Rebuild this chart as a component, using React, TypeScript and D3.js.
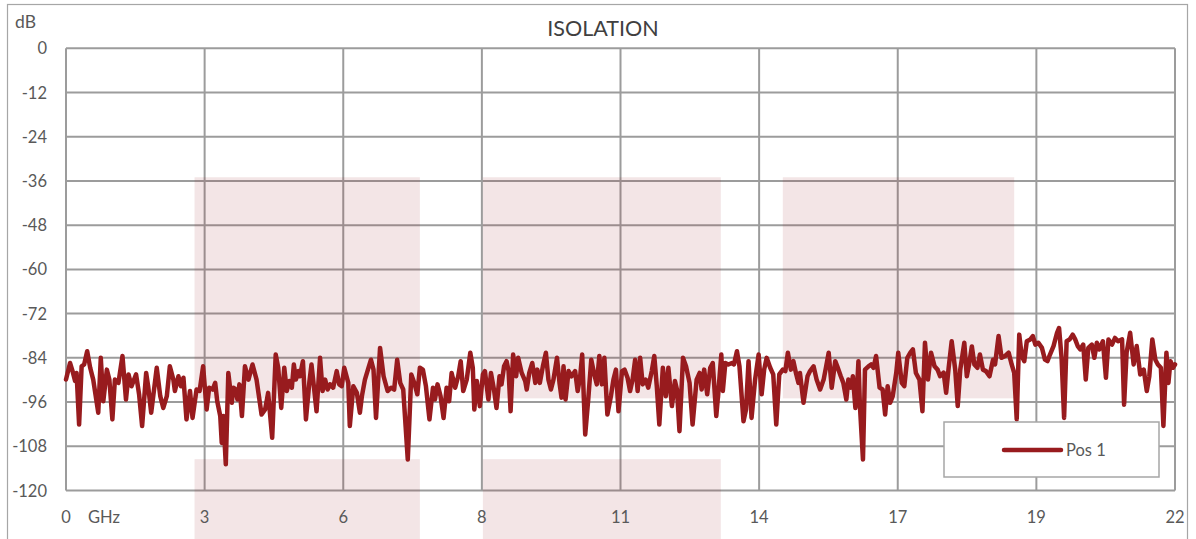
import React, { useRef, useEffect } from "react";
import * as d3 from "d3";

// measured isolation, Pos 1 (GHz, dB)
const freqGHz = [
  0.0, 0.08, 0.13, 0.18, 0.21, 0.26, 0.31, 0.36, 0.42, 0.48, 0.54, 0.64, 0.69, 0.74, 0.81, 0.86, 0.92, 0.97,
  1.04, 1.12, 1.19, 1.24, 1.3, 1.39, 1.45, 1.51, 1.59, 1.63, 1.69, 1.8, 1.87, 1.93, 2.0, 2.06, 2.13, 2.16,
  2.23, 2.28, 2.33, 2.39, 2.46, 2.51, 2.59, 2.65, 2.72, 2.79, 2.84, 2.91, 2.96, 3.0, 3.06, 3.09, 3.12, 3.17,
  3.22, 3.29, 3.32, 3.37, 3.4, 3.44, 3.49, 3.55, 3.62, 3.7, 3.78, 3.88, 3.95, 4.01, 4.09, 4.16, 4.21, 4.27,
  4.33, 4.38, 4.43, 4.48, 4.52, 4.56, 4.61, 4.64, 4.7, 4.76, 4.83, 4.87, 4.92, 4.97, 5.04, 5.09, 5.14, 5.19,
  5.24, 5.3, 5.37, 5.42, 5.47, 5.52, 5.6, 5.63, 5.7, 5.77, 5.83, 5.87, 5.93, 6.0, 6.05, 6.1, 6.15, 6.23,
  6.3, 6.38, 6.45, 6.51, 6.57, 6.63, 6.69, 6.78, 6.85, 6.91, 6.97, 7.02, 7.08, 7.14, 7.21, 7.28, 7.32, 7.37,
  7.43, 7.49, 7.55, 7.6, 7.65, 7.72, 7.78, 7.83, 7.88, 7.95, 8.02, 8.07, 8.1, 8.15, 8.21, 8.27, 8.31, 8.38,
  8.43, 8.49, 8.54, 8.6, 8.64, 8.69, 8.74, 8.78, 8.82, 8.87, 8.93, 8.97, 9.04, 9.11, 9.14, 9.19, 9.25, 9.31,
  9.35, 9.4, 9.46, 9.52, 9.57, 9.62, 9.67, 9.74, 9.79, 9.83, 9.87, 9.91, 9.97, 10.03, 10.1, 10.15, 10.2, 10.24,
  10.3, 10.36, 10.42, 10.48, 10.53, 10.58, 10.63, 10.68, 10.74, 10.81, 10.86, 10.91, 10.96, 11.03, 11.08, 11.14, 11.19, 11.24,
  11.29, 11.34, 11.39, 11.44, 11.5, 11.55, 11.62, 11.67, 11.72, 11.77, 11.84, 11.9, 11.95, 12.02, 12.08, 12.12, 12.17, 12.24,
  12.3, 12.37, 12.43, 12.51, 12.57, 12.61, 12.66, 12.72, 12.78, 12.83, 12.9, 12.94, 13.0, 13.03, 13.08, 13.14, 13.21, 13.25,
  13.31, 13.36, 13.44, 13.49, 13.54, 13.6, 13.67, 13.74, 13.8, 13.85, 13.9, 13.97, 14.03, 14.09, 14.15, 14.22, 14.27, 14.32,
  14.38, 14.43, 14.48, 14.53, 14.56, 14.63, 14.71, 14.76, 14.83, 14.89, 14.96, 15.03, 15.08, 15.13, 15.19, 15.26, 15.3, 15.37,
  15.42, 15.48, 15.52, 15.57, 15.61, 15.66, 15.69, 15.72, 15.75, 15.81, 15.85, 15.92, 15.97, 16.02, 16.07, 16.14, 16.2, 16.25,
  16.3, 16.35, 16.4, 16.47, 16.51, 16.58, 16.63, 16.69, 16.75, 16.8, 16.86, 16.93, 16.99, 17.04, 17.1, 17.16, 17.23, 17.29,
  17.34, 17.41, 17.46, 17.51, 17.57, 17.64, 17.69, 17.74, 17.82, 17.87, 17.92, 17.97, 18.02, 18.08, 18.13, 18.19, 18.25, 18.32,
  18.39, 18.43, 18.5, 18.56, 18.63, 18.7, 18.76, 18.81, 18.86, 18.91, 18.96, 19.01, 19.06, 19.13, 19.18, 19.23, 19.29, 19.36,
  19.42, 19.47, 19.52, 19.59, 19.66, 19.7, 19.75, 19.8, 19.85, 19.91, 19.97, 20.02, 20.07, 20.12, 20.18, 20.23, 20.28, 20.35,
  20.4, 20.45, 20.5, 20.57, 20.63, 20.68, 20.75, 20.81, 20.87, 20.95, 20.99, 21.04, 21.11, 21.18, 21.24, 21.31, 21.38, 21.44,
  21.49, 21.55, 21.61, 21.66, 21.72, 21.77, 21.83, 21.87, 21.91, 21.96, 22.0,
];

const pos1Db = [
  -89.9, -85.4, -87.6, -90.3, -88.1, -102.1, -86.3, -85.8, -82.2, -86.7, -89.9, -98.9, -84.0, -95.8, -87.2, -89.9, -100.7, -89.9,
  -90.8, -83.5, -95.3, -88.5, -91.7, -88.5, -93.9, -102.5, -88.1, -91.7, -98.9, -86.7, -94.4, -97.6, -94.4, -86.3, -89.9, -93.0,
  -89.0, -91.7, -89.4, -100.7, -93.0, -100.3, -92.6, -93.0, -86.3, -98.0, -92.1, -92.6, -90.8, -95.8, -99.8, -107.1, -99.8, -112.9,
  -88.1, -96.2, -92.1, -92.6, -95.3, -91.2, -99.8, -86.3, -89.9, -85.8, -89.9, -99.4, -98.0, -93.5, -105.7, -83.1, -86.7, -97.6,
  -86.7, -93.0, -90.3, -92.1, -85.8, -89.9, -87.6, -89.0, -84.9, -100.7, -90.3, -85.8, -92.1, -98.5, -84.0, -93.0, -89.9, -92.6,
  -91.2, -92.1, -87.6, -91.2, -91.7, -86.7, -90.8, -102.5, -91.7, -93.5, -98.9, -94.4, -89.9, -86.7, -84.5, -87.2, -100.3, -81.3,
  -89.0, -93.0, -92.1, -92.6, -84.5, -90.8, -92.6, -111.6, -88.5, -90.8, -93.9, -86.7, -87.2, -91.7, -100.7, -92.1, -95.3, -91.2,
  -94.4, -100.3, -92.1, -95.8, -88.1, -92.1, -89.0, -84.9, -93.0, -89.9, -82.6, -86.7, -98.0, -90.3, -97.1, -88.5, -87.6, -95.3,
  -88.1, -92.6, -97.6, -89.0, -91.2, -86.3, -84.9, -87.6, -98.5, -83.1, -89.0, -84.0, -88.1, -90.3, -92.6, -88.1, -85.4, -90.8,
  -87.2, -90.8, -86.3, -82.6, -89.9, -92.6, -89.9, -84.0, -90.8, -94.8, -86.3, -95.3, -87.6, -89.0, -87.6, -93.0, -89.0, -83.1,
  -104.8, -95.3, -84.5, -88.5, -91.2, -83.5, -91.2, -84.0, -99.4, -94.4, -89.9, -87.2, -98.5, -87.6, -87.2, -89.4, -93.0, -89.9,
  -84.5, -93.0, -84.0, -91.2, -89.9, -92.1, -87.6, -83.5, -91.7, -102.1, -86.7, -94.4, -86.7, -97.1, -90.3, -92.6, -103.9, -84.0,
  -86.3, -90.8, -102.1, -89.9, -88.1, -92.6, -87.2, -93.9, -86.7, -85.4, -99.8, -93.5, -83.1, -93.0, -85.4, -85.8, -85.4, -85.8,
  -82.2, -86.3, -101.2, -98.0, -84.9, -100.3, -89.9, -83.1, -93.9, -87.2, -84.0, -86.7, -88.5, -102.1, -88.5, -87.2, -87.6, -82.6,
  -87.2, -84.9, -88.1, -90.8, -88.1, -96.2, -89.0, -87.6, -86.3, -89.9, -92.6, -89.9, -86.3, -82.6, -92.1, -84.9, -86.3, -89.0,
  -90.8, -95.3, -89.9, -92.1, -89.0, -97.6, -93.0, -84.9, -97.1, -111.6, -87.2, -86.3, -85.8, -86.7, -83.5, -92.1, -92.6, -99.4,
  -91.7, -96.2, -94.4, -88.1, -82.6, -90.8, -91.7, -84.0, -82.6, -81.7, -88.1, -89.9, -98.5, -79.9, -89.9, -82.6, -86.3, -87.2,
  -89.0, -88.0, -93.5, -86.7, -79.5, -87.2, -97.1, -87.2, -79.9, -89.0, -85.4, -80.9, -85.8, -86.7, -83.1, -87.2, -87.6, -89.0,
  -84.5, -85.8, -78.1, -84.0, -83.5, -82.6, -85.8, -88.1, -100.7, -77.7, -83.5, -84.9, -79.5, -79.0, -78.1, -80.4, -79.9, -81.3,
  -84.5, -84.9, -83.1, -80.8, -77.2, -75.9, -84.0, -100.3, -79.5, -79.0, -77.7, -79.0, -80.8, -81.7, -80.4, -89.9, -81.3, -80.4,
  -84.0, -79.9, -81.7, -79.5, -89.4, -79.0, -80.4, -78.6, -79.5, -79.0, -96.7, -82.6, -77.2, -85.8, -80.8, -88.5, -87.2, -93.0,
  -89.0, -79.0, -84.5, -85.8, -86.7, -102.5, -82.6, -90.8, -84.9, -86.7, -85.8,
];

// shaded spec windows: [start GHz, end GHz, top dB, bottom dB]
const upperBands = [
  [2.55, 7.02, -35, -95],
  [8.27, 12.99, -35, -95],
  [14.22, 18.81, -35, -95],
];
const lowerBands = [
  [2.55, 7.02, -111.5, -134],
  [8.27, 12.99, -111.5, -134],
];

const yTicks = [0, -12, -24, -36, -48, -60, -72, -84, -96, -108, -120];
const xTicks = d3.range(0, 22.001, 2.75);

const seriesName = "Pos 1";
const title = "ISOLATION";

const App: React.FC = () => {
  const ref = useRef<SVGSVGElement | null>(null);

  useEffect(() => {
    document.body.style.margin = "0";
    if (!ref.current) return;
    const svg = d3.select(ref.current);
    svg.selectAll("*").remove();

    const width = 1196;
    const height = 539;
    const margin = { top: 48.3, right: 21, bottom: 48.5, left: 66 };
    const font = "Lato, 'Noto Sans', sans-serif";
    const textColor = "#595959";
    const gridColor = "#9c9c9c";
    const lineColor = "#981b1e";

    const x = d3
      .scaleLinear()
      .domain([0, 22])
      .range([margin.left, width - margin.right]);
    const y = d3
      .scaleLinear()
      .domain([-120, 0])
      .range([height - margin.bottom, margin.top]);

    // outer chart frame
    svg
      .append("rect")
      .attr("x", 7.5)
      .attr("y", 4.5)
      .attr("width", 1180)
      .attr("height", 600)
      .attr("fill", "white")
      .attr("stroke", "#a6a6a6")
      .attr("stroke-width", 1.2);

    const grid = svg.append("g").attr("stroke", gridColor).attr("stroke-width", 2);
    grid
      .selectAll("line.h")
      .data(yTicks)
      .join("line")
      .attr("x1", margin.left)
      .attr("x2", width - margin.right)
      .attr("y1", (d) => y(d))
      .attr("y2", (d) => y(d));
    grid
      .selectAll("line.v")
      .data(xTicks)
      .join("line")
      .attr("x1", (d) => x(d))
      .attr("x2", (d) => x(d))
      .attr("y1", y(0))
      .attr("y2", y(-120));

    svg
      .append("g")
      .selectAll("rect")
      .data([...upperBands, ...lowerBands])
      .join("rect")
      .attr("x", (d) => x(d[0]))
      .attr("width", (d) => x(d[1]) - x(d[0]))
      .attr("y", (d) => y(d[2]))
      .attr("height", (d) => y(d[3]) - y(d[2]))
      .attr("fill", "#961e23")
      .attr("fill-opacity", 0.115);

    const line = d3
      .line<number>()
      .x((_, i) => x(freqGHz[i]))
      .y((d) => y(d));

    svg
      .append("path")
      .datum(pos1Db)
      .attr("fill", "none")
      .attr("stroke", lineColor)
      .attr("stroke-width", 4.5)
      .attr("stroke-linejoin", "round")
      .attr("stroke-linecap", "round")
      .attr("d", line);

    // axis labels
    svg
      .append("g")
      .selectAll("text")
      .data(yTicks)
      .join("text")
      .attr("x", 47)
      .attr("y", (d) => y(d) + 6)
      .attr("text-anchor", "end")
      .attr("font-family", font)
      .attr("font-size", 16.5)
      .attr("fill", textColor)
      .text((d) => d3.format("d")(d).replace("−", "-"));

    svg
      .append("g")
      .selectAll("text")
      .data(xTicks)
      .join("text")
      .attr("x", (d) => x(d))
      .attr("y", 523)
      .attr("text-anchor", "middle")
      .attr("font-family", font)
      .attr("font-size", 16.5)
      .attr("fill", textColor)
      .text((d) => d3.format(".0f")(d));

    svg
      .append("text")
      .attr("x", 88)
      .attr("y", 523)
      .attr("font-family", font)
      .attr("font-size", 16.5)
      .attr("fill", textColor)
      .text("GHz");

    svg
      .append("text")
      .attr("x", 15)
      .attr("y", 28)
      .attr("font-family", font)
      .attr("font-size", 17.5)
      .attr("fill", textColor)
      .text("dB");

    svg
      .append("text")
      .attr("x", 603)
      .attr("y", 36)
      .attr("text-anchor", "middle")
      .attr("font-family", font)
      .attr("font-size", 21.5)
      .attr("fill", "#404040")
      .text(title);

    // legend
    const lg = svg.append("g");
    lg.append("rect")
      .attr("x", 944)
      .attr("y", 422)
      .attr("width", 215)
      .attr("height", 55)
      .attr("fill", "white")
      .attr("stroke", "#a6a6a6")
      .attr("stroke-width", 1.5);
    lg.append("line")
      .attr("x1", 1004)
      .attr("x2", 1061)
      .attr("y1", 450)
      .attr("y2", 450)
      .attr("stroke", lineColor)
      .attr("stroke-width", 4.5)
      .attr("stroke-linecap", "round");
    lg.append("text")
      .attr("x", 1066)
      .attr("y", 456)
      .attr("font-family", font)
      .attr("font-size", 16.5)
      .attr("fill", textColor)
      .text(seriesName);
  }, []);

  return <svg ref={ref} width={1196} height={539} style={{ display: "block" }} />;
};

export default App;
